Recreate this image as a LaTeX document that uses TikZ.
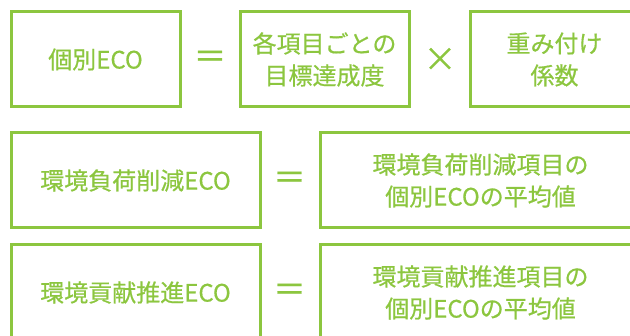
\documentclass[tikz,border=0pt]{standalone}
\usepackage{fontspec}
\setmainfont{Noto Sans CJK JP}[FakeBold=0.6]
\definecolor{EcoClr}{RGB}{140,198,63}

\begin{document}
\begin{tikzpicture}[x=1pt,y=-1pt,
  ecobox/.style={draw=EcoClr,line width=3pt,text=EcoClr,align=center,
    minimum height=95pt,inner sep=0pt,font=\fontsize{24}{32}\selectfont},
  ecoop/.style={text=EcoClr,inner sep=0pt,font=\fontsize{33}{33}\selectfont}]
\useasboundingbox (0,0) rectangle (630,336);
\clip (0,0) rectangle (630,336);

\node[ecobox,minimum width=169pt] (kobetsu) at (95.5,59.5) {個別ECO};
\node[ecoop] (eqA) at (210,59.5) {＝};
\node[ecobox,minimum width=169pt] (tassei) at (324.5,59.5) {各項目ごとの\\目標達成度};
\node[ecoop] (times) at (440,59.5) {×};
\node[ecobox,minimum width=169pt] (omomi) at (554.5,59.5) {重み付け\\係数};

\node[ecobox,minimum width=249pt] (sakugen) at (135.5,180.5) {環境負荷削減ECO};
\node[ecoop] (eqB) at (289.5,180.5) {＝};
\node[ecobox,minimum width=321pt] (sakugenAvg) at (480.5,180.5) {環境負荷削減項目の\\個別ECOの平均値};

\node[ecobox,minimum width=249pt] (koken) at (135.5,292.5) {環境貢献推進ECO};
\node[ecoop] (eqC) at (289.5,292.5) {＝};
\node[ecobox,minimum width=321pt] (kokenAvg) at (480.5,292.5) {環境貢献推進項目の\\個別ECOの平均値};

\end{tikzpicture}
\end{document}
